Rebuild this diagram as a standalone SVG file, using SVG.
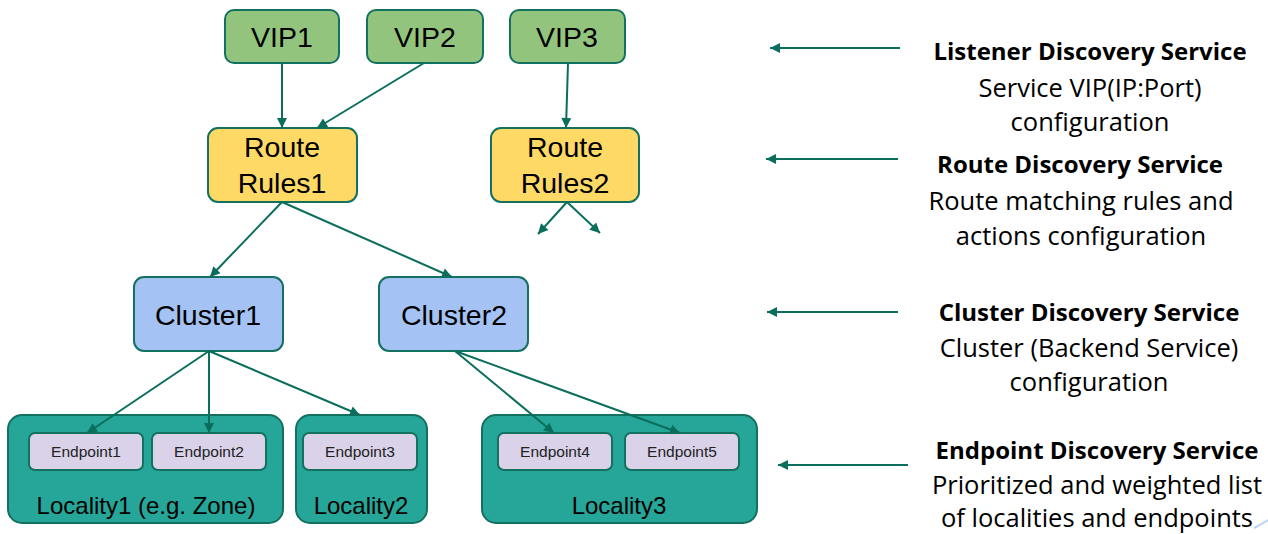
<svg xmlns="http://www.w3.org/2000/svg" width="1268" height="534" viewBox="0 0 1268 534">
  <defs>
    <marker id="head" viewBox="0 0 10 10" refX="10" refY="5" markerWidth="11" markerHeight="10" markerUnits="userSpaceOnUse" orient="auto">
      <path d="M0,0 L10,5 L0,10 Z" fill="#0b6e5c"/>
    </marker>
    <style>
      .box { stroke: #14705f; stroke-width: 2; }
      .vip { fill: #93c47d; }
      .route { fill: #ffd966; }
      .cluster { fill: #a4c2f4; }
      .locality { fill: #26a699; }
      .endpoint { fill: #d9d2e9; }
      .lbl { font-family: "Liberation Sans", Arial, sans-serif; fill: #000; text-anchor: middle; }
      .big { font-size: 28.5px; }
      .mid { font-size: 24px; }
      .small { font-size: 15.5px; fill: #222; }
      .edge { stroke: #0b6e5c; stroke-width: 2; fill: none; marker-end: url(#head); }
      .note { font-family: "Open Sans", Lato, sans-serif; font-size: 25.5px; fill: #000; text-anchor: middle; }
      .note .hd { font-weight: bold; font-size: 24px; }
    </style>
  </defs>

  <rect width="1268" height="534" fill="#ffffff"/>

  <!-- listeners -->
  <g id="vip1"><rect class="box vip" x="225" y="10" width="114" height="53" rx="9"/><text class="lbl big" x="282" y="47">VIP1</text></g>
  <g id="vip2"><rect class="box vip" x="367" y="10" width="116" height="53" rx="9"/><text class="lbl big" x="425" y="47">VIP2</text></g>
  <g id="vip3"><rect class="box vip" x="510" y="10" width="115" height="53" rx="9"/><text class="lbl big" x="567" y="47">VIP3</text></g>

  <!-- route tables -->
  <g id="route1"><rect class="box route" x="208" y="128" width="149" height="74" rx="10"/><text class="lbl big" x="282" y="157">Route</text><text class="lbl big" x="282" y="193">Rules1</text></g>
  <g id="route2"><rect class="box route" x="491" y="128" width="148" height="74" rx="10"/><text class="lbl big" x="565" y="157">Route</text><text class="lbl big" x="565" y="193">Rules2</text></g>

  <!-- clusters -->
  <g id="cluster1"><rect class="box cluster" x="134" y="277" width="149" height="74" rx="10"/><text class="lbl big" x="208" y="325">Cluster1</text></g>
  <g id="cluster2"><rect class="box cluster" x="379" y="277" width="149" height="74" rx="10"/><text class="lbl big" x="454" y="325">Cluster2</text></g>

  <!-- localities with their endpoints -->
  <g id="locality1">
    <rect class="box locality" x="8" y="415" width="275" height="108" rx="14"/>
    <text class="lbl mid" x="146" y="514">Locality1 (e.g. Zone)</text>
  </g>
  <g id="endpoint1"><rect class="box endpoint" x="29" y="433" width="114" height="37" rx="6"/><text class="lbl small" x="86" y="457">Endpoint1</text></g>
  <g id="endpoint2"><rect class="box endpoint" x="152" y="433" width="114" height="37" rx="6"/><text class="lbl small" x="209" y="457">Endpoint2</text></g>

  <g id="locality2">
    <rect class="box locality" x="296" y="415" width="131" height="108" rx="14"/>
    <text class="lbl mid" x="361" y="514">Locality2</text>
  </g>
  <g id="endpoint3"><rect class="box endpoint" x="303" y="433" width="114" height="37" rx="6"/><text class="lbl small" x="360" y="457">Endpoint3</text></g>

  <g id="locality3">
    <rect class="box locality" x="482" y="415" width="275" height="108" rx="14"/>
    <text class="lbl mid" x="619" y="514">Locality3</text>
  </g>
  <g id="endpoint4"><rect class="box endpoint" x="498" y="433" width="114" height="37" rx="6"/><text class="lbl small" x="555" y="457">Endpoint4</text></g>
  <g id="endpoint5"><rect class="box endpoint" x="625" y="433" width="114" height="37" rx="6"/><text class="lbl small" x="682" y="457">Endpoint5</text></g>

  <!-- connectors -->
  <g id="connectors">
    <line class="edge" x1="282" y1="63" x2="282" y2="128"/>
    <line class="edge" x1="424" y1="63" x2="317" y2="128"/>
    <line class="edge" x1="568" y1="63" x2="566" y2="128"/>
    <line class="edge" x1="282" y1="202" x2="210" y2="277"/>
    <line class="edge" x1="282" y1="202" x2="452" y2="277"/>
    <line class="edge" x1="567" y1="202" x2="538" y2="234"/>
    <line class="edge" x1="567" y1="202" x2="600" y2="233"/>
    <line class="edge" x1="209" y1="351" x2="87" y2="433"/>
    <line class="edge" x1="209" y1="351" x2="209" y2="433"/>
    <line class="edge" x1="209" y1="351" x2="360" y2="415"/>
    <line class="edge" x1="455" y1="351" x2="554" y2="433"/>
    <line class="edge" x1="455" y1="351" x2="680" y2="433"/>
    <line class="edge" x1="900" y1="48" x2="770" y2="48"/>
    <line class="edge" x1="898" y1="159" x2="766" y2="159"/>
    <line class="edge" x1="898" y1="312" x2="767" y2="312"/>
    <line class="edge" x1="908" y1="465" x2="778" y2="465"/>
  </g>

  <!-- xDS descriptions -->
  <g id="lds" class="note">
    <text class="hd" x="1090" y="60">Listener Discovery Service</text>
    <text x="1090" y="97">Service VIP(IP:Port)</text>
    <text x="1090" y="131">configuration</text>
  </g>
  <g id="rds" class="note">
    <text class="hd" x="1080" y="173">Route Discovery Service</text>
    <text x="1081" y="210">Route matching rules and</text>
    <text x="1081" y="245">actions configuration</text>
  </g>
  <g id="cds" class="note">
    <text class="hd" x="1089" y="321">Cluster Discovery Service</text>
    <text x="1089" y="357">Cluster (Backend Service)</text>
    <text x="1089" y="391">configuration</text>
  </g>
  <g id="eds" class="note">
    <text class="hd" x="1097" y="459">Endpoint Discovery Service</text>
    <text x="1097" y="494">Prioritized and weighted list</text>
    <text x="1097" y="527">of localities and endpoints</text>
  </g>

  <!-- faint pen stroke in the corner -->
  <path d="M1254,528 Q1262,524 1268,520" stroke="#a9cbe8" stroke-width="2" fill="none" opacity="0.8"/>
</svg>
